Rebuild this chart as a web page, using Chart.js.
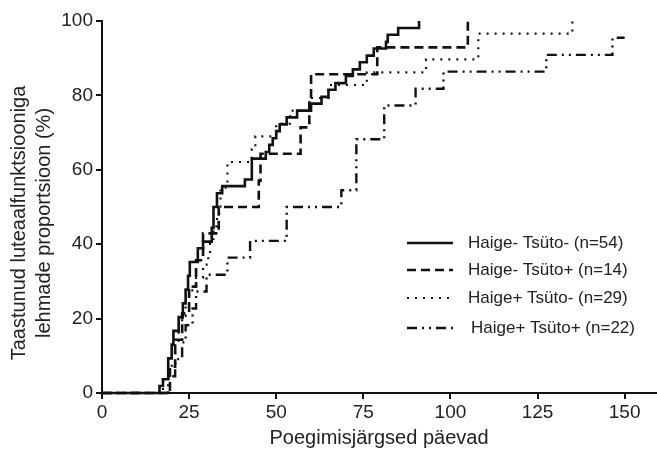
<!DOCTYPE html>
<html><head><meta charset="utf-8">
<script src="https://cdn.jsdelivr.net/npm/chart.js@4/dist/chart.umd.min.js"></script>
<style>html,body{margin:0;padding:0;background:#fff}#wrap{width:657px;height:450px}</style>
</head><body><div id="wrap"><canvas id="c" width="657" height="450"></canvas></div>
<script>
const xTicks = [0, 25, 50, 75, 100, 125, 150];
const yTicks = [0, 20, 40, 60, 80, 100];
const seriesNames = ['Haige- Tsüto- (n=54)', 'Haige- Tsüto+ (n=14)', 'Haige+ Tsüto- (n=29)', 'Haige+ Tsüto+ (n=22)'];
const xTitle = 'Poegimisjärgsed päevad';
const yTitle = ['Taastunud luteaalfunktsiooniga', 'lehmade proportsioon (%)'];

// Haige- Tsüto- (n=54)
const s1Days = [0,16.5,17.5,19,20,20.5,22,23.2,24,24.7,25.2,27.5,29,31.5,32,33,34.5,41,43,47,48,49,50,51,53,56,60,63,65,67,70,72,74,76,78,81.5,82,85,91];
const s1Pct  = [0,1.9,3.7,9.3,13,16.7,20.4,24.1,27.8,31.5,35.2,38.9,40.7,44.4,50,53.7,55.6,57.4,63,64.8,66.7,68.5,70.4,72.2,74.1,75.9,77.8,79.6,81.5,83.3,85.2,87,88.9,90.7,92.6,94.4,96.3,98.1,100];
// Haige- Tsüto+ (n=14)
const s2Days = [0,19.5,21,23,25,27,29,33.5,45,45.5,57,59.5,60,79,105];
const s2Pct  = [0,7.1,14.3,21.4,28.6,35.7,42.9,50,57.1,64.3,71.4,78.6,85.7,92.9,100];
// Haige+ Tsüto- (n=29)
const s3Days = [0,17.5,19,20,21,22,23,24,25,27,29,30.5,31,32,33,34,36,43,44,50,54,60,65,76,93,108,135];
const s3Pct  = [0,3.4,6.9,10.3,13.8,17.2,20.7,24.1,27.6,31,34.5,37.9,41.4,44.8,48.3,55.2,62.1,65.5,69,72.4,75.9,79.3,82.8,86.2,89.7,96.6,100];
// Haige+ Tsüto+ (n=22)
const s4Days = [0,19,21,23,24,26,27,30,36,42.5,53,68.7,73,81,90,98,127.5,146.5,150];
const s4Pct  = [0,4.5,9.1,13.6,18.2,22.7,27.3,31.8,36.4,40.9,50,54.5,68.2,77.3,81.8,86.4,90.9,95.5,95.5];

const styles = [
  {dash: [], width: 2.6},
  {dash: [9, 5], width: 2.6},
  {dash: [2, 6], width: 2.2},
  {dash: [10, 5, 2, 5, 2, 5], width: 2.4}
];
const daysList = [s1Days, s2Days, s3Days, s4Days];
const pctList = [s1Pct, s2Pct, s3Pct, s4Pct];

const datasets = seriesNames.map((name, i) => ({
  label: name,
  data: daysList[i].map((d, j) => ({x: d, y: pctList[i][j]})),
  borderColor: '#111',
  backgroundColor: '#111',
  borderWidth: styles[i].width,
  borderDash: styles[i].dash,
  pointRadius: 0,
  fill: false,
  stepped: 'before',
  clip: false,
  tension: 0
}));

const FONT = "'Liberation Sans', Arial, sans-serif";
const TXT = '#222';

const textPlugin = {
  id: 'textPlugin',
  afterDraw(chart) {
    const ctx = chart.ctx;
    ctx.save();
    // y title
    ctx.fillStyle = TXT;
    ctx.font = '20px ' + FONT;
    ctx.textAlign = 'center';
    ctx.textBaseline = 'middle';
    ctx.translate(0, 223);
    ctx.rotate(-Math.PI / 2);
    ctx.fillText(yTitle[0], 0, 19);
    ctx.fillText(yTitle[1], 0, 44);
    ctx.restore();
    // legend
    const ys = [243, 270, 298, 328];
    ctx.save();
    seriesNames.forEach((name, i) => {
      ctx.beginPath();
      ctx.strokeStyle = '#111';
      ctx.lineWidth = styles[i].width;
      ctx.setLineDash(styles[i].dash);
      ctx.moveTo(407, ys[i]);
      ctx.lineTo(453, ys[i]);
      ctx.stroke();
      ctx.setLineDash([]);
      ctx.fillStyle = TXT;
      ctx.font = '17px ' + FONT;
      ctx.textAlign = 'left';
      ctx.textBaseline = 'middle';
      ctx.fillText(name, i === 3 ? 471 : 468, ys[i]);
    });
    ctx.restore();
  }
};

new Chart(document.getElementById('c'), {
  type: 'line',
  data: {datasets},
  options: {
    responsive: false,
    animation: false,
    devicePixelRatio: 1,
    layout: {padding: {top: 21, right: 1, left: 0, bottom: 0}},
    plugins: {legend: {display: false}, tooltip: {enabled: false}},
    scales: {
      x: {
        type: 'linear', min: 0, max: 159,
        afterBuildTicks: s => { s.ticks = xTicks.map(v => ({value: v})); },
        afterFit: s => { s.height = 57; },
        ticks: {font: {family: FONT, size: 19}, color: TXT, padding: 2, maxRotation: 0},
        grid: {drawOnChartArea: false, drawTicks: true, tickLength: 6, color: '#111', lineWidth: 2},
        border: {display: true, color: '#111', width: 2},
        title: {display: true, text: xTitle, font: {family: FONT, size: 20}, color: TXT, padding: {top: 0, bottom: 0}}
      },
      y: {
        type: 'linear', min: 0, max: 100,
        afterBuildTicks: s => { s.ticks = yTicks.map(v => ({value: v})); },
        afterFit: s => { s.width = 102; },
        ticks: {font: {family: FONT, size: 19}, color: TXT, padding: 3},
        grid: {drawOnChartArea: false, drawTicks: true, tickLength: 6, color: '#111', lineWidth: 2},
        border: {display: true, color: '#111', width: 2}
      }
    }
  },
  plugins: [textPlugin]
});
</script></body></html>
